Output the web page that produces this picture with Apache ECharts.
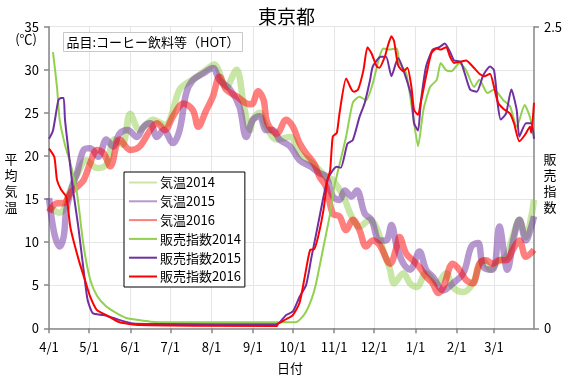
<!DOCTYPE html>
<html><head><meta charset="utf-8">
<script src="https://cdn.jsdelivr.net/npm/echarts@6/dist/echarts.min.js"></script>
<style>html,body{margin:0;padding:0;background:#fff}#c{width:568px;height:378px}</style>
</head><body><div id="c"></div>
<script>
// Month starts (fiscal year Apr -> Mar), tick labels
const monthNames = [4,5,6,7,8,9,10,11,12,1,2,3];
const monthLengths = [30,31,30,31,31,30,31,30,31,31,28,31];
const tickLabels = ['4/1','5/1','6/1','7/1','8/1','9/1','10/1','11/1','12/1','1/1','2/1','3/1'];

// Temperature (°C), [day index from 4/1, value]
const temp2014 = [[0,14.1],[8,13.4],[16,16.0],[21,17.8],[28,19.5],[36,18.6],[43,19.0],[49,21.9],[55,21.3],[61,24.9],[68,23.0],[78,24.2],[87,23.6],[98,27.7],[103,28.4],[111,29.2],[118,30.0],[124,30.6],[133,28.0],[141,30.0],[143,29.2],[146,26.1],[151,23.0],[153,24.2],[158,25.0],[163,23.4],[171,21.9],[181,22.2],[188,20.3],[198,19.1],[208,17.6],[213,17.2],[221,15.3],[227,13.0],[233,11.8],[241,12.6],[246,11.6],[251,9.0],[256,6.8],[259,5.2],[266,6.4],[271,5.2],[276,4.8],[283,6.4],[291,5.2],[298,6.4],[303,4.8],[311,4.2],[318,5.2],[326,7.9],[331,6.8],[338,7.9],[343,8.3],[348,10.6],[353,12.6],[358,10.6],[362,13.0],[364,14.9]];
const temp2015 = [[0,15.1],[4,11.0],[8,9.5],[11,10.6],[13,13.7],[18,16.8],[21,18.0],[26,20.7],[31,20.9],[37,19.9],[43,21.9],[48,21.1],[53,22.6],[59,23.0],[66,22.2],[71,23.4],[76,23.8],[81,22.2],[86,23.0],[93,21.5],[98,23.0],[103,27.3],[108,28.8],[116,29.6],[123,30.2],[128,28.8],[136,27.7],[143,25.7],[148,22.2],[153,24.2],[158,24.6],[163,23.0],[168,23.0],[173,21.9],[181,21.1],[188,19.5],[196,18.8],[203,18.0],[208,17.6],[213,15.3],[218,14.9],[222,16.0],[227,15.3],[231,16.0],[237,13.3],[242,12.6],[248,10.2],[253,10.2],[257,12.0],[261,9.5],[266,7.5],[271,6.8],[278,8.9],[283,6.8],[288,6.0],[296,4.4],[303,5.2],[311,6.4],[317,9.5],[322,9.9],[326,7.1],[333,6.8],[338,11.8],[344,6.8],[349,10.6],[353,12.6],[358,10.2],[362,11.8],[364,13.0]];
const temp2016 = [[0,13.5],[6,14.5],[11,14.5],[16,15.7],[21,16.4],[26,17.2],[31,19.2],[36,20.7],[41,20.3],[46,18.8],[53,21.9],[61,20.7],[68,21.1],[76,23.0],[81,23.8],[87,23.0],[93,24.6],[101,26.1],[108,25.3],[112,23.4],[118,25.3],[123,26.9],[128,29.2],[133,27.7],[141,26.9],[148,26.1],[152,26.0],[157,27.5],[161,26.5],[164,23.8],[171,22.6],[178,24.2],[183,23.4],[188,21.5],[193,20.3],[199,19.1],[203,17.6],[208,16.4],[213,13.3],[218,13.0],[223,11.4],[228,12.6],[233,11.4],[238,9.5],[243,10.2],[248,9.7],[256,7.5],[261,9.5],[263,10.6],[268,8.7],[273,7.9],[278,7.1],[283,6.0],[288,5.2],[292,4.1],[296,4.8],[303,7.5],[308,6.8],[313,5.6],[318,5.2],[323,7.5],[328,7.9],[333,7.5],[338,7.9],[343,7.9],[348,9.1],[353,10.2],[358,8.3],[364,9.1]];

// Sales index, [day index, value]
const sales2014 = [[3,2.29],[6,2.0],[8,1.73],[12,1.52],[16,1.37],[21,1.12],[26,0.68],[31,0.40],[36,0.27],[43,0.18],[50,0.13],[58,0.085],[66,0.07],[76,0.055],[90,0.05],[185,0.05],[189,0.08],[193,0.14],[197,0.24],[200,0.35],[203,0.51],[207,0.73],[211,0.95],[214,1.17],[217,1.31],[223,1.59],[228,1.87],[233,1.92],[238,1.89],[243,2.03],[248,2.25],[251,2.32],[256,2.31],[261,2.32],[263,2.2],[268,2.12],[273,1.78],[277,1.51],[281,1.81],[286,2.0],[291,2.06],[294,2.2],[298,2.14],[302,2.13],[308,2.2],[313,2.14],[319,2.0],[323,2.06],[329,1.95],[334,1.98],[341,1.89],[346,1.84],[351,1.67],[357,1.85],[361,1.75],[364,1.59]];
const sales2015 = [[0,1.57],[3,1.64],[7,1.89],[9,1.91],[11,1.91],[12,1.73],[16,1.34],[18,1.15],[22,0.84],[26,0.48],[29,0.235],[33,0.124],[41,0.11],[51,0.075],[63,0.04],[81,0.036],[170,0.033],[173,0.046],[178,0.11],[183,0.14],[188,0.26],[193,0.36],[197,0.59],[201,0.81],[206,1.09],[209,1.23],[213,1.31],[216,1.34],[219,1.33],[224,1.53],[228,1.56],[233,1.75],[237,1.87],[241,2.06],[243,2.17],[249,2.25],[253,2.25],[257,2.09],[262,2.24],[266,2.14],[272,1.92],[274,1.70],[277,1.64],[279,1.87],[283,2.17],[288,2.31],[293,2.33],[297,2.36],[301,2.29],[304,2.22],[309,2.21],[316,1.98],[321,1.96],[326,2.10],[331,2.17],[334,2.14],[337,1.84],[339,1.73],[343,1.78],[347,1.98],[351,1.81],[353,1.59],[358,1.70],[362,1.70],[364,1.57]];
const sales2016 = [[0,1.49],[4,1.42],[6,1.23],[9,1.15],[13,1.09],[16,0.84],[19,0.70],[23,0.54],[27,0.40],[31,0.26],[36,0.15],[43,0.11],[53,0.05],[68,0.027],[171,0.02],[172,0.04],[178,0.075],[183,0.11],[188,0.21],[192,0.43],[196,0.65],[199,0.655],[202,0.76],[206,0.98],[209,1.23],[211,1.31],[213,1.59],[216,1.62],[218,1.78],[223,2.07],[227,1.98],[229,1.96],[232,1.98],[236,2.14],[239,2.33],[242,2.28],[246,2.17],[248,2.16],[252,2.25],[254,2.33],[257,2.42],[259,2.38],[262,2.18],[266,2.13],[269,2.16],[272,2.0],[274,1.81],[277,1.77],[279,1.87],[283,2.09],[287,2.28],[291,2.32],[294,2.31],[298,2.33],[301,2.25],[304,2.2],[309,2.21],[313,2.22],[318,2.17],[323,2.11],[327,2.09],[331,2.11],[334,2.0],[337,1.87],[341,1.82],[346,1.78],[349,1.70],[353,1.55],[357,1.60],[361,1.67],[362,1.62],[364,1.87]];

// Build daily categories and month start indices
const categories = [];
const monthStart = new Set();
monthNames.forEach((m, i) => {
  monthStart.add(categories.length);
  for (let d = 1; d <= monthLengths[i]; d++) categories.push(m + '/' + d);
});
const isMonthStart = (idx) => monthStart.has(idx);

const FONT = '"Noto Sans CJK JP", "Noto Sans", sans-serif';
const chart = echarts.init(document.getElementById('c'), null, {renderer: 'canvas'});

const tempSeries = (name, data, color) => ({
  name, type: 'line', data, yAxisIndex: 0, symbol: 'none', smooth: 0.35,
  lineStyle: {color, width: 6.5, opacity: 0.5}, itemStyle: {color, opacity: 0.5},
  emphasis: {disabled: true}, animation: false
});
const salesSeries = (name, data, color) => ({
  name, type: 'line', data, yAxisIndex: 1, symbol: 'none', smooth: 0.2,
  lineStyle: {color, width: 2}, itemStyle: {color},
  emphasis: {disabled: true}, animation: false
});

chart.setOption({
  animation: false,
  textStyle: {fontFamily: FONT},
  grid: {left: 49, right: 34, top: 26.7, bottom: 49.7, containLabel: false},
  legend: {
    left: 124, top: 172, orient: 'vertical',
    itemWidth: 28, itemHeight: 14, itemGap: 5.8,
    padding: [4, 4, 4, 4],
    itemStyle: {opacity: 0},
    backgroundColor: '#fff', borderColor: '#000', borderWidth: 1, borderRadius: 0,
    textStyle: {fontFamily: FONT, fontSize: 13, color: '#000', padding: [0,0,0,-2]},
    data: ['気温2014','気温2015','気温2016','販売指数2014','販売指数2015','販売指数2016']
  },
  xAxis: {
    type: 'category', data: categories, boundaryGap: false,
    axisLine: {lineStyle: {color: '#868686', width: 1.5}},
    axisTick: {show: true, interval: isMonthStart, length: 5, lineStyle: {color: '#868686', width: 1.5}},
    axisLabel: {interval: isMonthStart, margin: 12, fontSize: 13, color: '#000', fontFamily: FONT,
      formatter: (v) => v},
    splitLine: {show: true, interval: isMonthStart, lineStyle: {color: '#e6e6e6', width: 1}}
  },
  yAxis: [
    {type: 'value', min: 0, max: 35, interval: 5,
     axisLine: {show: true, lineStyle: {color: '#868686', width: 1.5}},
     axisTick: {show: true, length: 5, lineStyle: {color: '#868686', width: 1.5}},
     axisLabel: {margin: 10, fontSize: 13, color: '#000', fontFamily: FONT},
     splitLine: {show: true, lineStyle: {color: '#e6e6e6', width: 1}}},
    {type: 'value', min: 0, max: 2.5, interval: 2.5, position: 'right',
     axisLine: {show: true, lineStyle: {color: '#868686', width: 1.5}},
     axisTick: {show: true, length: 5, lineStyle: {color: '#868686', width: 1.5}},
     axisLabel: {margin: 10, fontSize: 13, color: '#000', fontFamily: FONT},
     splitLine: {show: false}}
  ],
  series: [
    tempSeries('気温2014', temp2014, '#92D050'),
    tempSeries('気温2015', temp2015, '#7030A0'),
    tempSeries('気温2016', temp2016, '#FF0000'),
    salesSeries('販売指数2014', sales2014, '#92D050'),
    salesSeries('販売指数2015', sales2015, '#7030A0'),
    salesSeries('販売指数2016', sales2016, '#FF0000')
  ],
  graphic: [
    {type: 'text', left: 258, top: 7, style: {text: '東京都', font: '19px ' + FONT, fill: '#000'}},
    {type: 'text', x: 37, y: 39, style: {text: '(℃)', font: '13px ' + FONT, fill: '#000', align: 'right', verticalAlign: 'middle'}},
    {type: 'text', x: 11, y: 183, style: {text: '平\n均\n気\n温', font: '13px ' + FONT, fill: '#000', align: 'center', verticalAlign: 'middle', lineHeight: 16}},
    {type: 'text', x: 550, y: 183, style: {text: '販\n売\n指\n数', font: '13px ' + FONT, fill: '#000', align: 'center', verticalAlign: 'middle', lineHeight: 16}},
    {type: 'text', x: 290, y: 368, style: {text: '日付', font: '13px ' + FONT, fill: '#000', align: 'center', verticalAlign: 'middle'}},
    {type: 'rect', shape: {x: 63.5, y: 32.5, width: 179, height: 19}, style: {fill: '#fff', stroke: '#c8c8c8', lineWidth: 1}, z: 100},
    {type: 'text', x: 153, y: 42.5, z: 101, style: {text: '品目:コーヒー飲料等（HOT）', font: '13px ' + FONT, fill: '#000', align: 'center', verticalAlign: 'middle'}}
  ]
});
</script></body></html>
